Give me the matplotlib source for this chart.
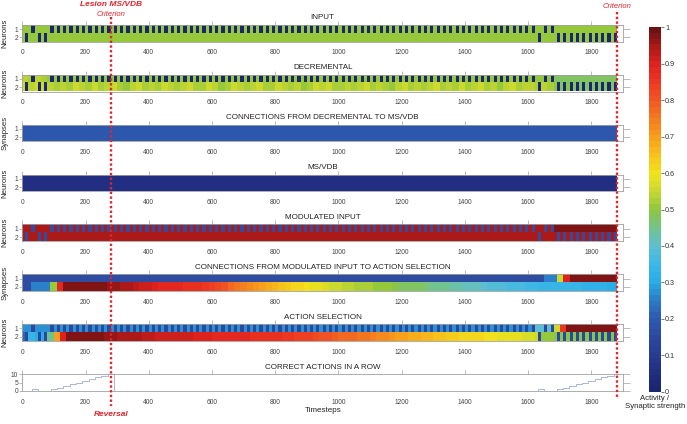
import numpy as np
import matplotlib
matplotlib.use('Agg')
import matplotlib.pyplot as plt
from matplotlib.colors import LinearSegmentedColormap, Normalize
from matplotlib.lines import Line2D
from matplotlib import transforms

plt.rcParams['font.family'] = ['Liberation Sans', 'DejaVu Sans']

# ---- data (one entry per trial of 20 timesteps, 94 trials) ----
trial_len = 20
lesion_t = 280
criterion_t = 1880

# row holding the stimulus / chosen action in each trial
choice = [2, 1, 2, 2] + [1] * 77 + [2, 1, 1] + [2] * 10

# correct actions in a row
streak = [0, 1, 0, 0, 1, 2, 3, 4, 5, 6, 7, 8, 9, 10] + [0] * 67 + [1, 0, 0, 1, 2, 3, 4, 5, 6, 7, 8, 9, 10]

inp1 = [0.5] * 94
inp2 = [0.5] * 94

dec1 = [0.54, 0.53, 0.54, 0.53] + [0.50] * 80 + [0.48] * 10
dec2 = [0.55, 0.54, 0.55, 0.56, 0.54, 0.53, 0.54, 0.52, 0.55, 0.54,
        0.53, 0.55, 0.52, 0.54, 0.55, 0.53, 0.51, 0.54, 0.55, 0.52,
        0.54, 0.53, 0.55, 0.54, 0.52, 0.54, 0.56, 0.53, 0.52, 0.55,
        0.54, 0.51, 0.53, 0.55, 0.54, 0.52, 0.54, 0.55, 0.53, 0.52,
        0.55, 0.54, 0.52, 0.54, 0.51, 0.53, 0.55, 0.54, 0.55, 0.52,
        0.53, 0.54, 0.52, 0.54, 0.55, 0.52, 0.54, 0.53, 0.51, 0.54,
        0.55, 0.53, 0.54, 0.52, 0.54, 0.55, 0.52, 0.54, 0.53, 0.55,
        0.52, 0.54, 0.55, 0.53, 0.54, 0.51, 0.54, 0.55, 0.52, 0.54,
        0.54, 0.52, 0.54, 0.53, 0.49, 0.48, 0.49, 0.48, 0.48, 0.47,
        0.48, 0.48, 0.47, 0.48]

w_dec1 = [0.19] * 94
w_dec2 = [0.19] * 94

msvdb1 = [0.05] * 94
msvdb2 = [0.05] * 94

mod1 = [0.95] * 84 + [0.97] * 10
mod2 = [0.95] * 94

w_mod1 = [0.17] * 82 + [0.25, 0.25, 0.55, 0.90] + [0.98] * 8
w_mod2 = [0.17, 0.25, 0.25, 0.25, 0.50, 0.88, 0.98,
          0.98, 0.98, 0.98, 0.97, 0.97, 0.97, 0.96, 0.96,
          0.95, 0.94, 0.93, 0.92, 0.91,
          0.90, 0.89, 0.89, 0.88, 0.88,
          0.87, 0.87, 0.86, 0.85, 0.84,
          0.82, 0.80, 0.78, 0.76, 0.74,
          0.72, 0.71, 0.69, 0.68, 0.66,
          0.65, 0.63, 0.62, 0.61, 0.60,
          0.59, 0.58, 0.57, 0.56, 0.55,
          0.54, 0.54, 0.53, 0.52, 0.52,
          0.51, 0.50, 0.50, 0.49, 0.48,
          0.48, 0.47, 0.47, 0.46, 0.45,
          0.45, 0.44, 0.43, 0.43, 0.42,
          0.41, 0.41, 0.40, 0.39, 0.39,
          0.38, 0.37, 0.37, 0.36, 0.35,
          0.35, 0.34, 0.34, 0.34, 0.33,
          0.33, 0.33, 0.33, 0.32, 0.32,
          0.32, 0.32, 0.31, 0.31]

act1 = [0.27] * 81 + [0.40, 0.40, 0.40, 0.55, 0.85] + [0.97] * 8
act2 = [0.22, 0.34, 0.30, 0.30, 0.45, 0.70, 0.90,
        0.98, 0.98, 0.98, 0.97, 0.97, 0.97, 0.96, 0.96,
        0.95, 0.95, 0.94, 0.94, 0.93,
        0.93, 0.92, 0.92, 0.92, 0.91,
        0.91, 0.91, 0.90, 0.90, 0.90,
        0.89, 0.89, 0.89, 0.88, 0.88,
        0.88, 0.87, 0.87, 0.87, 0.86,
        0.86, 0.85, 0.85, 0.84, 0.84,
        0.83, 0.82, 0.81, 0.80, 0.79,
        0.78, 0.78, 0.77, 0.76, 0.75,
        0.74, 0.73, 0.72, 0.71, 0.70,
        0.69, 0.68, 0.68, 0.67, 0.66,
        0.65, 0.65, 0.64, 0.63, 0.62,
        0.62, 0.61, 0.61, 0.60, 0.60,
        0.59, 0.59, 0.58, 0.58, 0.57,
        0.57, 0.56, 0.50, 0.50, 0.49,
        0.49, 0.49, 0.49, 0.49, 0.49,
        0.49, 0.49, 0.49, 0.49]

# ---- colormap ----
cmap = LinearSegmentedColormap.from_list('act', [
    (0.00, '#1c2570'), (0.05, '#222f82'), (0.10, '#283d94'), (0.15, '#2d4aa0'),
    (0.20, '#2e5bb0'), (0.25, '#2b7ec8'), (0.30, '#2aaee8'), (0.35, '#3fb8e6'),
    (0.40, '#5fbfcf'), (0.45, '#74c38a'), (0.50, '#8dc63f'), (0.55, '#c8d832'),
    (0.60, '#f2e41c'), (0.65, '#f8c31c'), (0.70, '#f7a01c'), (0.75, '#f47e20'),
    (0.80, '#f15a24'), (0.85, '#ee3a22'), (0.90, '#e2231f'), (0.95, '#b01a1a'),
    (1.00, '#6b1212')], N=64)


def halves(vals, init=None):
    # two half-trials (10 timesteps each) per trial
    v = np.repeat(np.asarray(vals, float), 2)
    if init is not None:
        v = np.concatenate([[init], v[:-1]])
    return v


def grid(r1, r2, block=None):
    m = np.vstack([r1, r2])
    if block is not None:
        for k, c in enumerate(choice):
            m[c - 1, 2 * k + 1] = block
    return m


panels = [
    ('INPUT', 'Neurons', grid(halves(inp1), halves(inp2), 0.0)),
    ('DECREMENTAL', 'Neurons', grid(halves(dec1), halves(dec2), 0.0)),
    ('CONNECTIONS FROM DECREMENTAL TO MS/VDB', 'Synapses', grid(halves(w_dec1), halves(w_dec2))),
    ('MS/VDB', 'Neurons', grid(halves(msvdb1), halves(msvdb2))),
    ('MODULATED INPUT', 'Neurons', grid(halves(mod1), halves(mod2), 0.17)),
    ('CONNECTIONS FROM MODULATED INPUT TO ACTION SELECTION', 'Synapses',
     grid(halves(w_mod1, 0.17), halves(w_mod2, 0.17))),
    ('ACTION SELECTION', 'Neurons', grid(halves(act1), halves(act2), 0.15)),
]

fig = plt.figure(figsize=(6.87, 4.24), dpi=100)
FW, FH = 687.0, 424.0
L, W, H = 22.3 / FW, (623 - 22.3) / FW, 16.8 / FH
gray = '#a0a0a0'
TFS = 5.8


def style(ax):
    for s in ax.spines.values():
        s.set_color(gray)
        s.set_linewidth(0.6)
    ax.set_xlim(0, 1900)
    ax.set_xticks(np.arange(0, 1801, 200))
    ax.tick_params(axis='x', bottom=False, top=True, labelbottom=True, direction='out',
                   length=3, width=0.5, color=gray, labelsize=4.8, labelcolor='#444', pad=2.5)
    ax.tick_params(axis='y', left=True, right=True, direction='out', length=2, width=0.5,
                   color=gray, labelsize=4.8, labelcolor='#444', pad=1)


axes = []
for i, (title, ylab, mat) in enumerate(panels):
    top = 24.8 + 49.9 * i
    ax = fig.add_axes([L, 1 - (top + 16.8) / FH, W, H])
    ax.imshow(mat, cmap=cmap, vmin=0, vmax=1, aspect='auto', interpolation='nearest',
              extent=[0, len(choice) * trial_len, 2.5, 0.5])
    ax.set_ylim(2.5, 0.5)
    style(ax)
    ax.set_yticks([1, 2])
    for t in ax.yaxis.get_major_ticks():
        t.tick2line.set_markersize(5)
    ax.set_ylabel(ylab, fontsize=5.6, color='#222')
    ax.yaxis.set_label_coords(-0.023, 0.5)
    ax.set_title(title, fontsize=TFS, color='#222', y=1.0, pad=4)
    axes.append(ax)

# correct actions in a row
top = 24.8 + 49.9 * 7
ax = fig.add_axes([L, 1 - (top + 16.8) / FH, W, H])
sx = [0] + [k * trial_len + 10 for k in range(len(streak))] + [criterion_t]
sy = [0] + streak + [streak[-1]]
ax.step(sx, sy, where='post', color='#9eabc9', lw=0.6)
ax.set_ylim(0, 10)
style(ax)
ax.set_yticks([0, 5, 10])
for t in ax.yaxis.get_major_ticks():
    t.tick2line.set_markersize(5)
ax.set_title('CORRECT ACTIONS IN A ROW', fontsize=TFS, color='#222', y=1.0, pad=4)
axes.append(ax)

fig.text(L + W / 2, 1 - 411 / FH, 'Timesteps', fontsize=5.8, color='#222', ha='center', va='center')

# lesion / criterion markers
red = '#e2242b'
tr = transforms.blended_transform_factory(axes[0].transData, fig.transFigure)
fig.add_artist(Line2D([lesion_t, lesion_t], [1 - 17 / FH, 1 - 406 / FH], transform=tr,
                      color=red, lw=1.7, ls=(0, (1, 1))))
fig.add_artist(Line2D([criterion_t, criterion_t], [1 - 12 / FH, 1 - 398 / FH], transform=tr,
                      color=red, lw=1.7, ls=(0, (1, 1))))
fig.text(lesion_t, 1 - 5 / FH, 'Lesion MS/VDB', transform=tr, color=red, fontsize=6,
         fontweight='bold', fontstyle='italic', ha='center', va='center')
fig.text(lesion_t, 1 - 14 / FH, 'Criterion', transform=tr, color=red, fontsize=5.5,
         fontstyle='italic', ha='center', va='center')
fig.text(criterion_t, 1 - 7 / FH, 'Criterion', transform=tr, color=red, fontsize=5.5,
         fontstyle='italic', ha='center', va='center')
fig.text(lesion_t, 1 - 415 / FH, 'Reversal', transform=tr, color=red, fontsize=6,
         fontweight='bold', fontstyle='italic', ha='center', va='center')

# colorbar
cax = fig.add_axes([649 / FW, (FH - 391.7) / FH, 12 / FW, (391.7 - 27.3) / FH])
sm = plt.cm.ScalarMappable(norm=Normalize(0, 1), cmap=cmap)
cb = fig.colorbar(sm, cax=cax, ticks=np.linspace(0, 1, 11))
cb.outline.set_visible(False)
cb.ax.set_yticklabels(['0', '0.1', '0.2', '0.3', '0.4', '0.5', '0.6', '0.7', '0.8', '0.9', '1'])
cb.ax.tick_params(labelsize=5.2, length=2, width=0.5, color='#444', labelcolor='#333', pad=1)
fig.text(655 / FW, 1 - 402.5 / FH, 'Activity /\nSynaptic strength', fontsize=5.6, color='#222',
         ha='center', va='center', linespacing=1.0)

fig.savefig('out.png', dpi=100)
